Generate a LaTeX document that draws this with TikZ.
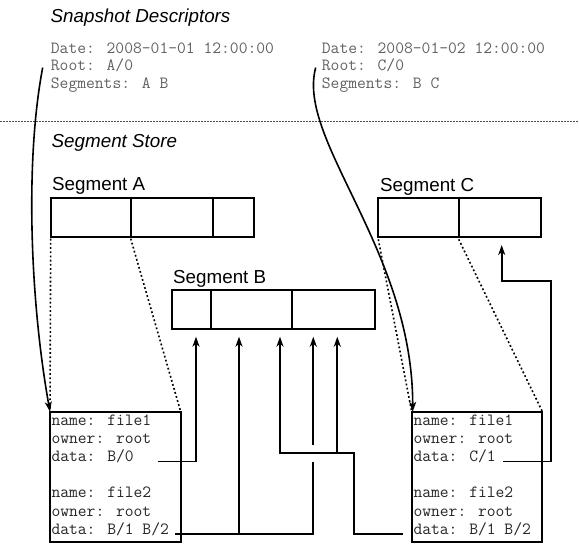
\documentclass[tikz,border=0pt]{standalone}
\usepackage{fontspec}
\setmainfont{Liberation Sans}
\usetikzlibrary{arrows.meta}
\tikzset{
  sanslbl/.style={font=\fontsize{18.8}{22}\selectfont, inner sep=0pt, anchor=base west},
  titlelbl/.style={font=\fontsize{18.8}{22}\selectfont\itshape, inner sep=0pt, anchor=base west},
  desc/.style={font=\ttfamily\fontsize{17.1}{18}\selectfont, text=black!62, inner sep=0pt, anchor=base west},
  ftext/.style={desc, text=black!85},
  cell/.style={draw, line width=2pt, inner sep=0pt, outer sep=0pt, anchor=north west, minimum height=39pt},
  filebox/.style={draw, line width=2pt, inner sep=0pt, outer sep=0pt, anchor=north west, minimum width=130.7pt, minimum height=130.6pt},
  conn/.style={line width=1.8pt},
  arr/.style={-{Stealth[length=10pt,width=7pt,inset=3pt]}},
  dots/.style={line width=1.6pt, dash pattern=on 1.8pt off 2.4pt},
  sepline/.style={line width=0.8pt, black!70, dash pattern=on 2pt off 1pt}
}
\begin{document}
\begin{tikzpicture}[x=1pt,y=-1pt]
\useasboundingbox (0,0) rectangle (579,544);

% Snapshot descriptors
\node[titlelbl] (tsnap) at (50.5,22.7) {Snapshot Descriptors};
\node[desc] (d1) at (50.7,53.3) {Date: 2008-01-01 12:00:00};
\node[desc] (r1) at (50.7,70.8) {Root: A/0};
\node[desc] (s1) at (50.7,88.3) {Segments: A B};
\node[desc] (d2) at (321.7,53.3) {Date: 2008-01-02 12:00:00};
\node[desc] (r2) at (321.7,70.8) {Root: C/0};
\node[desc] (s2) at (321.7,88.3) {Segments: B C};

\coordinate (sl) at (0,121.5);
\coordinate (sr) at (579,121.5);
\draw[sepline] (sl) -- (sr);

% Segment store
\node[titlelbl] (tstore) at (51.5,147.3) {Segment Store};

\node[sanslbl] (lA) at (52,190.7) {Segment A};
\node[cell, minimum width=80pt] (segA1) at (50.7,197.7) {};
\node[cell, minimum width=82.3pt] (segA2) at (segA1.north east) {};
\node[cell, minimum width=41pt] (segA3) at (segA2.north east) {};

\node[sanslbl] (lC) at (380,191.5) {Segment C};
\node[cell, minimum width=80.4pt] (segC1) at (378.3,198.3) {};
\node[cell, minimum width=82pt] (segC2) at (segC1.north east) {};

\node[sanslbl] (lB) at (173,283) {Segment B};
\node[cell, minimum width=39pt] (segB1) at (171.7,290) {};
\node[cell, minimum width=81.6pt] (segB2) at (segB1.north east) {};
\node[cell, minimum width=82.7pt] (segB3) at (segB2.north east) {};

% File boxes
\node[filebox] (fileA) at (50,411.7) {};
\node[filebox] (fileC) at (411.7,411.7) {};

\node[ftext] (nA1) at (51.3,425) {name: file1};
\node[ftext] (oA1) at (51.3,443.2) {owner: root};
\node[ftext] (dA1) at (51.3,461.4) {data: B/0};
\node[ftext] (nA2) at (51.3,497.8) {name: file2};
\node[ftext] (oA2) at (51.3,516) {owner: root};
\node[ftext] (dA2) at (51.3,534.2) {data: B/1 B/2};

\node[ftext] (nC1) at (413.3,425) {name: file1};
\node[ftext] (oC1) at (413.3,443.2) {owner: root};
\node[ftext] (dC1) at (413.3,461.4) {data: C/1};
\node[ftext] (nC2) at (413.3,497.8) {name: file2};
\node[ftext] (oC2) at (413.3,516) {owner: root};
\node[ftext] (dC2) at (413.3,534.2) {data: B/1 B/2};

% dotted projections
\draw[dots] ([yshift=-2pt]segA1.south west) -- (fileA.north west);
\draw[dots] ([yshift=-2pt]segA1.south east) -- (fileA.north east);
\draw[dots] ([yshift=-2pt]segC1.south west) -- (fileC.north west);
\draw[dots] ([yshift=-2pt]segC1.south east) -- (fileC.north east);

% root pointers
\draw[conn, line width=1.6pt, arr] ([xshift=-8pt,yshift=-2pt]r1.west) .. controls (25,160) and (30,300) .. (fileA.north west);
\draw[conn, line width=1.6pt, arr] ([xshift=-6pt,yshift=-2pt]r2.west) .. controls (296,140) and (413,250) .. ([xshift=1pt]fileC.north west);

% arrow tips
\coordinate (tB1) at (196,336.7);
\coordinate (tB2a) at (239,336.7);
\coordinate (tB2b) at (280,336.7);
\coordinate (tB3a) at (313.3,336.7);
\coordinate (tB3b) at (337.3,336.7);
\coordinate (tC2) at (501.7,245);
\coordinate (jC) at (354,453.3);
\coordinate (jR) at (550.7,280.7);

\coordinate (sA1) at ([xshift=23.7pt]dA1.base east);
\coordinate (sA2) at ([xshift=6pt]dA2.base east);
\coordinate (sC1) at ([xshift=7.4pt]dC1.base east);
\coordinate (sC2) at ([xshift=-10.6pt]dC2.base west);

% file A pointers
\draw[conn, arr] (sA1) -| (tB1);
\draw[conn, arr] (sA2) -| (tB3a);
\draw[conn, arr] (sA2 -| tB2a) -- (tB2a);
\coordinate (X) at (jC -| tB3a);
\draw[white, line width=4pt] ([yshift=8.7pt]X) -- ([yshift=-8.7pt]X);

% file C pointers
\draw[conn, arr] (sC2) -| (jC) -| (tB2b);
\draw[conn, arr] (jC -| tB3b) -- (tB3b);
\draw[conn, arr] (sC1) -| (jR) -| (tC2);
\end{tikzpicture}
\end{document}
